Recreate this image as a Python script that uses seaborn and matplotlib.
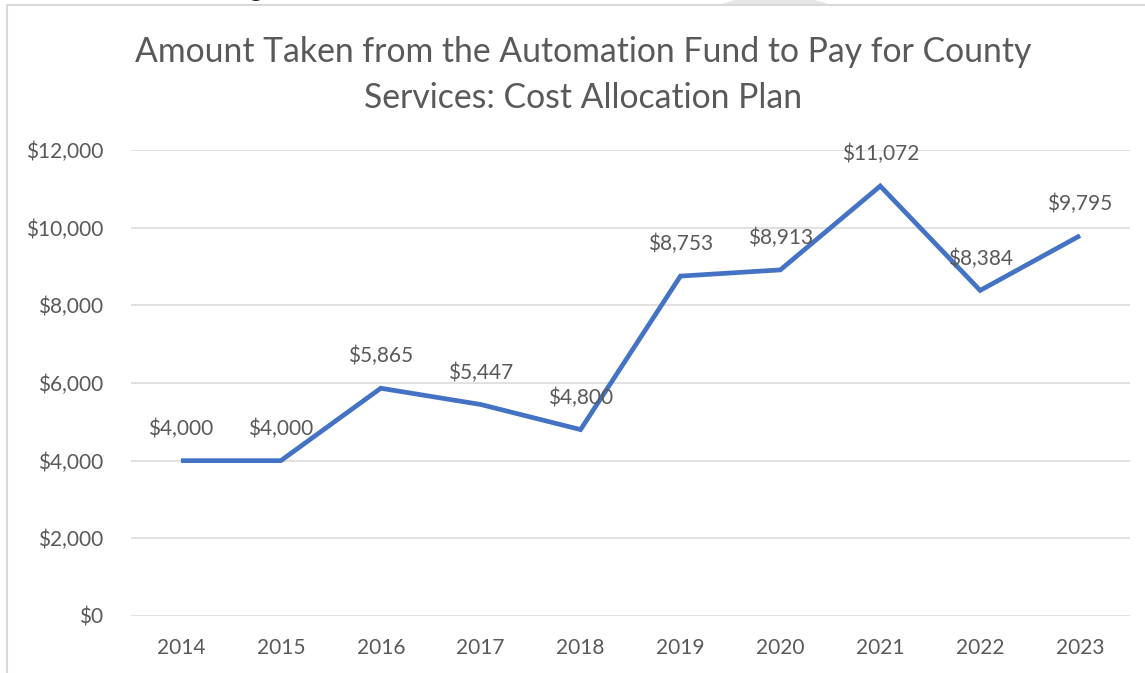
import matplotlib
matplotlib.use("Agg")
import matplotlib.pyplot as plt
import seaborn as sns
import pandas as pd
from matplotlib.patches import Polygon
from matplotlib.lines import Line2D

years = ["2014", "2015", "2016", "2017", "2018", "2019", "2020", "2021", "2022", "2023"]
amounts = [4000, 4000, 5865, 5447, 4800, 8753, 8913, 11072, 8384, 9795]
y_ticks = [0, 2000, 4000, 6000, 8000, 10000, 12000]
title = "Amount Taken from the Automation Fund to Pay for County\nServices: Cost Allocation Plan"

sns.set_theme(style="white")
plt.rcParams["font.family"] = ["Lato", "DejaVu Sans"]

TXT = "#595959"
GRID = "#d9d9d9"
LINE = "#4472C4"

W, H = 1145, 673
fig = plt.figure(figsize=(W / 100, H / 100), dpi=100)
ax = fig.add_axes([131 / W, (H - 616) / H, (1130 - 131) / W, (616 - 150) / H])

df = pd.DataFrame({"Year": years, "Amount": amounts})
sns.lineplot(data=df, x="Year", y="Amount", ax=ax, color=LINE, linewidth=3.4,
             sort=False, solid_joinstyle="miter", solid_capstyle="butt")

ax.set_xlim(-0.5, len(years) - 0.5)
ax.set_ylim(0, 12000)
ax.set_yticks(y_ticks)
ax.set_yticklabels([f"${v:,.0f}" for v in y_ticks])
ax.set_xlabel("")
ax.set_ylabel("")
ax.grid(axis="y", color=GRID, linewidth=1.1)
ax.set_axisbelow(True)
for s in ax.spines.values():
    s.set_visible(False)
ax.tick_params(axis="both", length=0, labelsize=15, labelcolor=TXT)
ax.tick_params(axis="y", pad=20)
ax.tick_params(axis="x", pad=16)

for i, v in enumerate(amounts):
    ax.annotate(f"${v:,.0f}", (i, v), xytext=(0, 23), textcoords="offset points",
                ha="center", va="center", fontsize=15, color=TXT)

fig.text(583 / W, 1 - 75 / H, title, ha="center", va="center", fontsize=24.3,
         color=TXT, linespacing=1.55)

# screenshot frame: left and top borders
fig.add_artist(Line2D([7 / W, 7 / W], [0, 1 - 5 / H], transform=fig.transFigure,
                      color=GRID, linewidth=1.5))
fig.add_artist(Line2D([7 / W, 1], [1 - 5 / H, 1 - 5 / H], transform=fig.transFigure,
                      color=GRID, linewidth=1.5))
fig.add_artist(Polygon([[718 / W, 1 - 5 / H], [735 / W, 1], [815 / W, 1], [832 / W, 1 - 5 / H]],
                       closed=True, transform=fig.transFigure, facecolor="#e6e6e6",
                       edgecolor="none"))
fig.text(255 / W, 1 + 12 / H, "g", ha="center", va="center", fontsize=20, color="#222222")

fig.savefig("out.png", dpi=100)
